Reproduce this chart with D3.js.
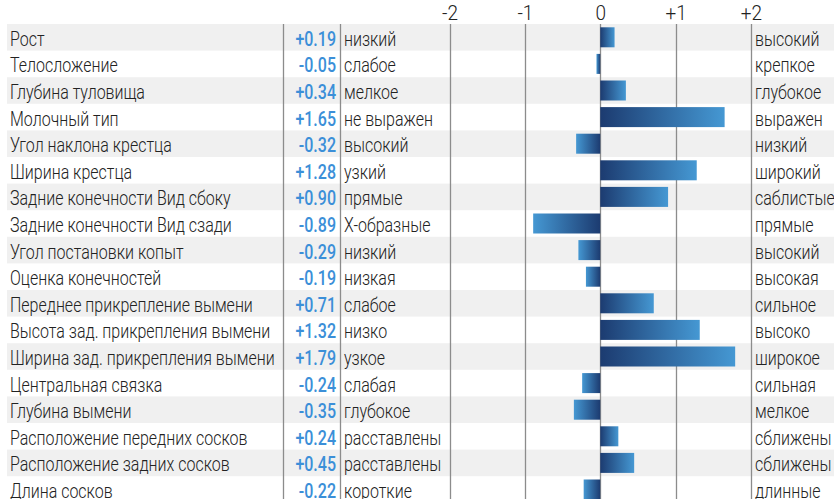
<!DOCTYPE html>
<html><head><meta charset="utf-8">
<script src="https://cdn.jsdelivr.net/npm/d3@7"></script>
<style>
html,body{margin:0;padding:0;background:#fff;}
svg{display:block;font-family:Roboto,"Noto Sans",sans-serif;}
</style></head>
<body><svg id="c" width="834" height="499"></svg>
<script>
const traits = ["Рост","Телосложение","Глубина туловища","Молочный тип","Угол наклона крестца","Ширина крестца","Задние конечности Вид сбоку","Задние конечности Вид сзади","Угол постановки копыт","Оценка конечностей","Переднее прикрепление вымени","Высота зад. прикрепления вымени","Ширина зад. прикрепления вымени","Центральная связка","Глубина вымени","Расположение передних сосков","Расположение задних сосков","Длина сосков"];
const values = [0.19,-0.05,0.34,1.65,-0.32,1.28,0.90,-0.89,-0.29,-0.19,0.71,1.32,1.79,-0.24,-0.35,0.24,0.45,-0.22];
const lowLabels = ["низкий","слабое","мелкое","не выражен","высокий","узкий","прямые","Х-образные","низкий","низкая","слабое","низко","узкое","слабая","глубокое","расставлены","расставлены","короткие"];
const highLabels = ["высокий","крепкое","глубокое","выражен","низкий","широкий","саблистые","прямые","высокий","высокая","сильное","высоко","широкое","сильная","мелкое","сближены","сближены","длинные"];
const tickValues = [-2,-1,0,1,2];
const tickLabels = ["-2","-1","0","+1","+2"];

const svg = d3.select("#c");
const W = 834, H = 499;
const x = d3.scaleLinear().domain([-2,2]).range([449.5,751]);
const rowH = 26.6, top0 = 24;
const y = d3.scaleBand().domain(d3.range(traits.length)).range([top0, top0+rowH*traits.length]).padding(0);
const sx = 0.82;

const defs = svg.append("defs");
const gPos = defs.append("linearGradient").attr("id","gpos").attr("x1","0%").attr("x2","100%");
gPos.append("stop").attr("offset","0%").attr("stop-color","#1c3b70");
gPos.append("stop").attr("offset","100%").attr("stop-color","#4598d3");
const gNeg = defs.append("linearGradient").attr("id","gneg").attr("x1","0%").attr("x2","100%");
gNeg.append("stop").attr("offset","0%").attr("stop-color","#4598d3");
gNeg.append("stop").attr("offset","100%").attr("stop-color","#1c3b70");

// stripes
svg.append("g").selectAll("rect").data(d3.range(0,traits.length,2)).join("rect")
  .attr("x",7).attr("y",i=>y(i))
  .attr("width",W-7).attr("height",y.bandwidth()).attr("fill","#f0f0f0");

// grid lines
const lineXs = [283, 340].concat(tickValues.map(v=>x(v)));
svg.append("g").selectAll("line").data(lineXs).join("line")
  .attr("x1",d=>Math.round(d)+0.5).attr("x2",d=>Math.round(d)+0.5)
  .attr("y1",top0).attr("y2",H)
  .attr("stroke","#8c8c8c").attr("stroke-width",1.3);

// axis labels
const ax = svg.append("g").attr("transform",`translate(0,20)`)
  .call(d3.axisTop(x).tickValues(tickValues).tickSize(0).tickPadding(0).tickFormat((d,i)=>tickLabels[i]));
ax.select(".domain").remove();
ax.selectAll("text").attr("font-size",20).attr("font-weight",300).attr("fill","#222")
  .attr("font-family","Roboto").attr("dy",0)
  .attr("transform",`scale(0.95,1)`).attr("x",0);

// bars
const bh = 20;
svg.append("g").selectAll("rect").data(values).join("rect")
  .attr("x",d=>x(Math.min(0,d)))
  .attr("width",d=>Math.abs(x(d)-x(0)))
  .attr("y",(d,i)=>y(i)+(y.bandwidth()-bh)/2)
  .attr("height",bh)
  .attr("fill",d=>d>=0?"url(#gpos)":"url(#gneg)");

function txt(g, arr, xpos, anchor, opts){
  g.selectAll("text").data(arr).join("text")
    .attr("transform",(d,i)=>`translate(${xpos},${y(i)+y.bandwidth()/2+8.5}) scale(${opts.sx||sx},1)`)
    .attr("text-anchor",anchor)
    .attr("font-size",opts.size).attr("font-weight",opts.weight).attr("fill",opts.fill)
    .text(d=>d);
}
txt(svg.append("g"), traits, 10, "start", {size:19.5, weight:300, fill:"#222"});
txt(svg.append("g"), values.map(v=>(v>=0?"+":"")+v.toFixed(2)), 336, "end", {size:20, weight:500, fill:"#3b8fd8", sx:0.8});
txt(svg.append("g"), lowLabels, 344, "start", {size:19.5, weight:300, fill:"#222"});
txt(svg.append("g"), highLabels, 755, "start", {size:19.5, weight:300, fill:"#222"});
</script></body></html>
